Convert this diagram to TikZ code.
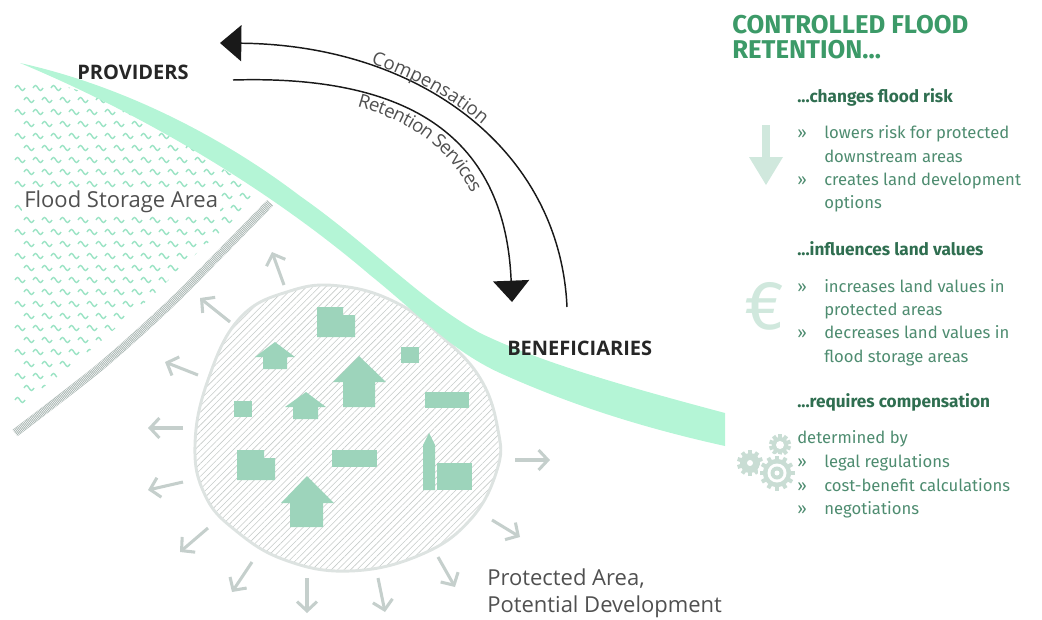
\documentclass[tikz,border=0pt]{standalone}
\usepackage{fontspec}
\setmainfont{Open Sans}
\newfontfamily\dinfont{Fira Sans}
\usetikzlibrary{arrows.meta,patterns.meta,decorations.text}

\definecolor{bandgreen}{HTML}{B4F5D6}
\definecolor{wavegreen}{HTML}{9BE3C4}
\definecolor{dikegrey}{HTML}{A3B1AD}
\definecolor{blobline}{HTML}{DDE3E1}
\definecolor{hatchgrey}{HTML}{C6CBC9}
\definecolor{housegreen}{HTML}{9DD4BB}
\definecolor{spreadgrey}{HTML}{C5CFCC}
\definecolor{labelgrey}{HTML}{505050}
\definecolor{titlegreen}{HTML}{3C9A68}
\definecolor{headgreen}{HTML}{2F6E50}
\definecolor{bodygreen}{HTML}{4E8C70}
\definecolor{iconmint}{HTML}{D0E8DD}
\definecolor{gearmint}{HTML}{C9DDD4}

\newcommand\arcfont{\fontsize{14}{16}\selectfont\color{labelgrey}}

\begin{document}
\begin{tikzpicture}[x=0.75pt,y=0.75pt,
  band/.style={fill=bandgreen},
  wave/.style={draw=wavegreen,line width=1.05pt},
  dike/.style={draw=dikegrey,line width=6pt,
    postaction={draw=white,line width=6pt,dash pattern=on 0.4pt off 0.8pt}},
  blob/.style={draw=blobline,line width=2.2pt,
    pattern={Lines[angle=45,distance=3.4pt,line width=0.45pt]},pattern color=hatchgrey},
  house/.style={fill=housegreen},
  spread/.style={draw=spreadgrey,line width=2.3pt,-{Straight Barb[length=7pt,width=15pt]}},
  flow/.style={draw=black!90,line width=1.1pt},
  who/.style={font=\fontsize{15}{18}\selectfont\bfseries,text=black!85,inner sep=0pt,anchor=base west},
  arealbl/.style={font=\fontsize{16.5}{20}\selectfont,text=labelgrey,inner sep=0pt,anchor=base west},
  headline/.style={font=\dinfont\fontsize{19.3}{22}\selectfont\bfseries,text=titlegreen,inner sep=0pt,anchor=base west},
  subhead/.style={font=\dinfont\fontsize{12.9}{15}\selectfont\bfseries,text=headgreen,inner sep=0pt,anchor=base west},
  body/.style={font=\dinfont\fontsize{12.5}{15}\selectfont,text=bodygreen,inner sep=0pt,anchor=base west}]
\useasboundingbox (0,0) rectangle (1042,-619);

% storage area: rows of small waves
\begin{scope}
  \clip (12,-70) -- (100,-97) -- (180,-140) -- (240,-180) -- (255,-200) -- (250,-205)
    -- (200,-250) -- (150,-298) -- (85,-355) -- (12,-412) -- cycle;
  \foreach \r in {0,...,28} {
    \pgfmathsetmacro\yy{-88-12*\r}
    \pgfmathsetmacro\xs{mod(\r,2)*9}
    \foreach \c in {0,...,14}
      \draw[wave] (15+\xs+18*\c,\yy) sin ++(2.5,2.5) cos ++(2.5,-2.5) sin ++(2.5,-2.5) cos ++(2.5,2.5);
  }
\end{scope}

% dike
\draw[dike] plot[smooth] coordinates {(15,-433) (100,-367) (167,-307) (217,-257) (270,-203)};

% protected area
\draw[blob] plot[smooth cycle,tension=0.7] coordinates {(195,-445) (208,-380) (240,-318) (290,-291)
  (340,-286) (395,-302) (440,-335) (480,-378) (498,-430) (497,-470) (470,-520) (420,-555)
  (350,-571) (285,-560) (235,-530) (205,-495)};

% buildings
\fill[house] (317,-307) -- (343,-307) -- (343,-315) -- (355,-315) -- (355,-337) -- (317,-337) -- cycle;
\fill[house] (237,-450) -- (264,-450) -- (264,-458) -- (275,-458) -- (275,-480) -- (237,-480) -- cycle;
\fill[house] (275,-342) -- (295,-357) -- (287,-357) -- (287,-369) -- (263,-369) -- (263,-357) -- (255,-357) -- cycle;
\fill[house] (359,-356) -- (386,-382) -- (375,-382) -- (375,-407) -- (343,-407) -- (343,-382) -- (333,-382) -- cycle;
\fill[house] (306,-392) -- (326,-407) -- (318,-407) -- (318,-419) -- (293,-419) -- (293,-407) -- (285,-407) -- cycle;
\fill[house] (307,-476) -- (334,-503) -- (323,-503) -- (323,-527) -- (290,-527) -- (290,-503) -- (281,-503) -- cycle;
\fill[house] (401,-347) rectangle (419,-363);
\fill[house] (234,-401) rectangle (252,-417);
\fill[house] (425,-392) rectangle (469,-408);
\fill[house] (332,-450) rectangle (377,-467);
\fill[house] (437,-463) rectangle (472,-490);
\fill[house] (423,-445) -- (429,-433) -- (435,-445) -- (435,-490) -- (423,-490) -- cycle;

% spreading development
\foreach \tx/\ty/\hx/\hy in {284/285/272/252, 230/322/200/298, 198/375/165/362, 183/428/148/428,
    183/482/148/490, 208/528/180/552, 252/562/232/592, 307/578/307/613, 378/578/385/612,
    438/557/455/587, 492/520/520/537, 515/460/550/460}
  \draw[spread] (\tx,-\ty) -- (\hx,-\hy);

% river
\fill[band] (20,-63) .. controls (120,-85) and (220,-135) .. (300,-196)
  .. controls (370,-245) and (420,-300) .. (480,-333)
  .. controls (540,-362) and (620,-385) .. (725,-413) -- (725,-446)
  .. controls (630,-425) and (560,-400) .. (500,-373)
  .. controls (450,-350) and (420,-315) .. (370,-275)
  .. controls (300,-215) and (180,-130) .. (20,-63) -- cycle;

% exchange between the two sides
\coordinate (compA) at (567,-307);
\coordinate (compB) at (220,-43);
\coordinate (retA) at (233,-80);
\coordinate (retB) at (512,-302);
\draw[flow,{Triangle[length=16pt,width=27pt]}-] (compB) .. controls (420,-45) and (560,-150) .. (compA);
\draw[flow,-{Triangle[length=16pt,width=27pt]}] (retA) .. controls (400,-75) and (505,-130) .. (retB);
\path[decorate,decoration={text along path,text={|\arcfont|Compensation},
    text align={left indent=114pt},raise=3pt}]
  (compB) .. controls (420,-45) and (560,-150) .. (compA);
\path[decorate,decoration={text along path,text={|\arcfont|Retention Services},
    text align={left indent=97pt},raise=-11.5pt}]
  (retA) .. controls (400,-75) and (505,-130) .. (retB);

\node[who] (prov) at (77,-79) {PROVIDERS};
\node[who] (bene) at (507,-355) {BENEFICIARIES};
\node[arealbl,fill=white,inner sep=1.5pt] (store) at (22,-207) {Flood Storage Area};
\node[arealbl] (prot1) at (487,-585) {Protected Area,};
\node[arealbl] (prot2) at (487,-612) {Potential Development};

% right column
\node[headline] (ttl1) at (732,-33) {CONTROLLED FLOOD};
\node[headline] (ttl2) at (732,-58) {RETENTION...};
\node[subhead] (risk) at (797,-102) {...changes flood risk};
\node[subhead] (value) at (797,-255) {...influences land values};
\node[subhead] (comp) at (797,-407) {...requires compensation};
\node[body] (det) at (797,-443) {determined by};
\foreach \y/\t in {138/lowers risk for protected, 162/downstream areas, 185/creates land development,
    208/options, 292/increases land values in, 315/protected areas, 338/decreases land values in,
    362/flood storage areas, 467/legal regulations, 491/cost-benefit calculations, 514/negotiations}
  \node[body] (ln\y) at (824,-\y) {\t};
\foreach \y in {138,185,292,338,467,491,514}
  \node[body] (bul\y) at (797,-\y) {»};

% icons
\fill[iconmint] (762,-125) rectangle (770,-157);
\fill[iconmint] (749,-157) -- (783,-157) -- (766,-185) -- cycle;
\node[inner sep=0pt,text=iconmint] (euro) at (764,-306) {\dinfont\fontsize{52}{52}\selectfont €};
\foreach \gx/\gy/\gr/\gn in {780/445/8/10, 750/463/10/10} {
  \fill[gearmint] (\gx,-\gy) circle (\gr);
  \foreach \k in {1,...,\gn}
    \fill[gearmint,shift={(\gx,-\gy)},rotate=\k*360/\gn] (-2,\gr-1) rectangle (2,\gr+3);
}
\fill[white] (780,-445) circle (4);
\fill[white] (750,-463) circle (3);
\fill[white] (777,-473) circle (19);
\fill[gearmint] (777,-473) circle (14);
\foreach \k in {1,...,12}
  \fill[gearmint,shift={(777,-473)},rotate=\k*30] (-2,13) rectangle (2,17.5);
\fill[white] (777,-473) circle (9.5);
\fill[gearmint] (777,-473) circle (6.5);
\fill[white] (777,-473) circle (2.5);
\end{tikzpicture}
\end{document}
